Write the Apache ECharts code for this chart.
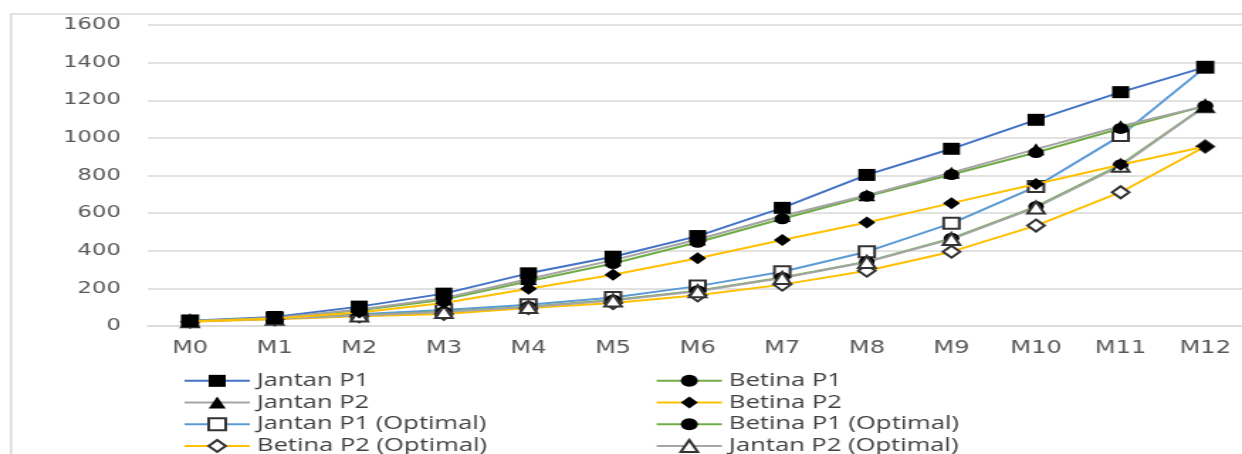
<!DOCTYPE html>
<html>
<head>
<meta charset="utf-8">
<script src="https://cdn.jsdelivr.net/npm/echarts@6/dist/echarts.min.js"></script>
<style>
  html, body { margin: 0; padding: 0; background: #fff; }
  #wrap { width: 1242px; height: 454px; overflow: hidden; position: relative; }
  /* the chart is laid out narrow and widened horizontally */
  #chart { width: 880px; height: 454px; transform: scaleX(1.41943); transform-origin: 0 0; }
</style>
</head>
<body>
<div id="wrap"><div id="chart"></div></div>
<script>
const categories = ['M0','M1','M2','M3','M4','M5','M6','M7','M8','M9','M10','M11','M12'];

const jantanP1        = [28, 48, 103, 172, 280, 368, 478, 628, 803, 942, 1096, 1243, 1376];
const betinaP1        = [26, 42, 84, 140, 238, 332, 445, 570, 690, 805, 922, 1050, 1170];
const jantanP2        = [26, 43, 88, 148, 250, 350, 460, 585, 695, 815, 940, 1062, 1170];
const betinaP2        = [24, 40, 72, 122, 198, 272, 360, 457, 550, 653, 755, 857, 954];
const jantanP1Opt     = [27, 40, 62, 85, 113, 152, 212, 288, 395, 546, 741, 1012, 1376];
const betinaP1Opt     = [25, 38, 57, 76, 103, 138, 188, 258, 342, 466, 635, 857, 1170];
const betinaP2Opt     = [23, 36, 52, 64, 95, 122, 163, 220, 294, 395, 534, 711, 954];
const jantanP2Opt     = [25, 38, 56, 74, 101, 135, 185, 255, 340, 462, 630, 852, 1168];

const yTicks = { min: 0, max: 1600, interval: 200 };

const legendLeft  = ['Jantan P1', 'Jantan P2', 'Jantan P1 (Optimal)', 'Betina P2 (Optimal)'];
const legendRight = ['Betina P1', 'Betina P2', 'Betina P1 (Optimal)', 'Jantan P2 (Optimal)'];

function line(name, data, color, symbol, size, z) {
  return {
    name: name,
    type: 'line',
    z: z,
    data: data,
    symbol: symbol,
    symbolSize: size,
    showSymbol: true,
    lineStyle: { color: color, width: 2 },
    itemStyle: { color: symbol.indexOf('empty') === 0 ? '#333' : '#000' },
    emphasis: { disabled: true },
    animation: false
  };
}

// measured growth lines sit above the optimal-curve lines
const series = [
  line('Jantan P1', jantanP1, '#4472C4', 'rect', 12, 4),
  line('Betina P1', betinaP1, '#70AD47', 'circle', 11, 4),
  line('Jantan P2', jantanP2, '#A5A5A5', 'triangle', 12, 4),
  line('Betina P2', betinaP2, '#FFC000', 'diamond', 12, 4),
  line('Jantan P1 (Optimal)', jantanP1Opt, '#5B9BD5', 'emptyRect', 11, 2),
  line('Betina P1 (Optimal)', betinaP1Opt, '#70AD47', 'circle', 11, 2),
  line('Betina P2 (Optimal)', betinaP2Opt, '#FFC000', 'emptyDiamond', 12, 2),
  line('Jantan P2 (Optimal)', jantanP2Opt, '#A5A5A5', 'emptyTriangle', 12, 2)
];

const legendText = { fontFamily: 'Open Sans', fontSize: 18, color: '#404040', lineHeight: 21.7 };

function legend(names, left) {
  return {
    data: names,
    orient: 'vertical',
    left: left,
    top: 370,
    height: 120,
    itemWidth: 46,
    itemHeight: 15,
    itemGap: 0,
    padding: 0,
    selectedMode: false,
    textStyle: legendText
  };
}

const chart = echarts.init(document.getElementById('chart'), null, { renderer: 'canvas' });
chart.setOption({
  backgroundColor: '#fff',
  animation: false,
  graphic: [{
    type: 'rect',
    z: -10,
    shape: { x: 7.75, y: 14, width: 2000, height: 2000 },
    style: { fill: 'none', stroke: '#d9d9d9', lineWidth: 1.5 }
  }],
  grid: { left: 104.1, right: 1.1, top: 25, bottom: 128 },
  xAxis: {
    type: 'category',
    data: categories,
    boundaryGap: true,
    axisTick: { show: false },
    axisLine: { lineStyle: { color: '#d9d9d9', width: 1.5 } },
    axisLabel: { fontFamily: 'DejaVu Sans', fontSize: 17, color: '#595959', margin: 14 }
  },
  yAxis: {
    type: 'value',
    min: yTicks.min,
    max: yTicks.max,
    interval: yTicks.interval,
    axisLine: { show: false },
    axisTick: { show: false },
    splitLine: { lineStyle: { color: '#d9d9d9', width: 1.5 } },
    axisLabel: {
      fontFamily: 'DejaVu Sans', fontSize: 16, color: '#595959', margin: 19,
      formatter: function (v) { return String(v); }
    }
  },
  legend: [legend(legendLeft, 129), legend(legendRight, 461.6)],
  series: series
});
</script>
</body>
</html>
